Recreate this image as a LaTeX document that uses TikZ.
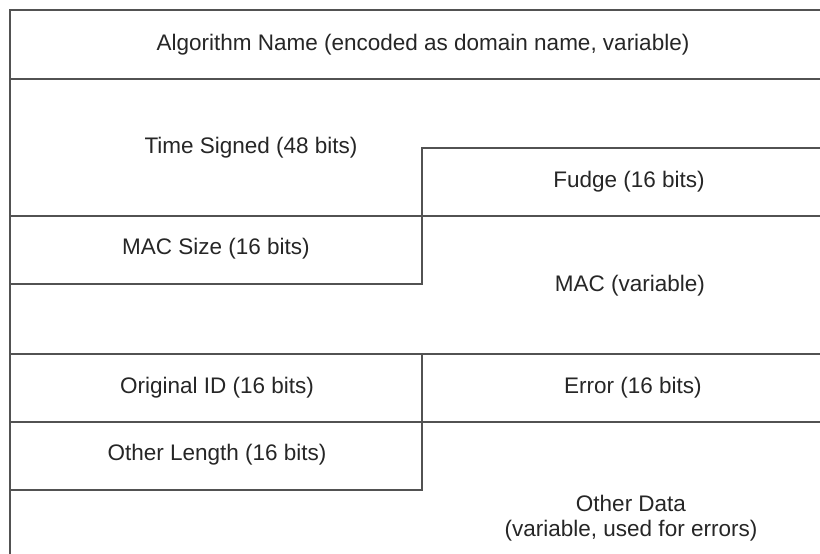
\documentclass[tikz,border=0pt]{standalone}
\usepackage{fontspec}
\setmainfont{Liberation Sans}
\begin{document}
\begin{tikzpicture}[x=1pt,y=-1pt,
  fld/.style={font=\fontsize{22.5}{25}\selectfont, text=black!85, align=center, inner sep=0pt},
  rule/.style={draw=black!68, line width=1.8pt, line cap=rect}]
\useasboundingbox (0,0) rectangle (820,554);
\fill[white] (0,0) rectangle (820,554);
\begin{scope}
\clip (0,0) rectangle (820,554);
% outer frame
\draw[rule] (10,600) -- (10,10) -- (840,10);
% full-width rules
\draw[rule] (10,79) -- (840,79);
\draw[rule] (10,216) -- (840,216);
\draw[rule] (10,354) -- (840,354);
\draw[rule] (10,422) -- (840,422);
% Fudge / MAC size split
\draw[rule] (840,148) -- (422,148) -- (422,284) -- (10,284);
% Original ID / Other length split
\draw[rule] (422,354) -- (422,490) -- (10,490);
\end{scope}
\node[fld] (alg)   at (423,45)  {Algorithm Name (encoded as domain name, variable)};
\node[fld] (time)  at (251,148) {Time Signed (48 bits)};
\node[fld] (fudge) at (629,182) {Fudge (16 bits)};
\node[fld] (macs)  at (216,249) {MAC Size (16 bits)};
\node[fld] (mac)   at (630,286) {MAC (variable)};
\node[fld] (oid)   at (217,388) {Original ID (16 bits)};
\node[fld] (err)   at (633,388) {Error (16 bits)};
\node[fld] (olen)  at (217,455) {Other Length (16 bits)};
\node[fld] (odata) at (631,518) {Other Data\\(variable, used for errors)};
\end{tikzpicture}
\end{document}
